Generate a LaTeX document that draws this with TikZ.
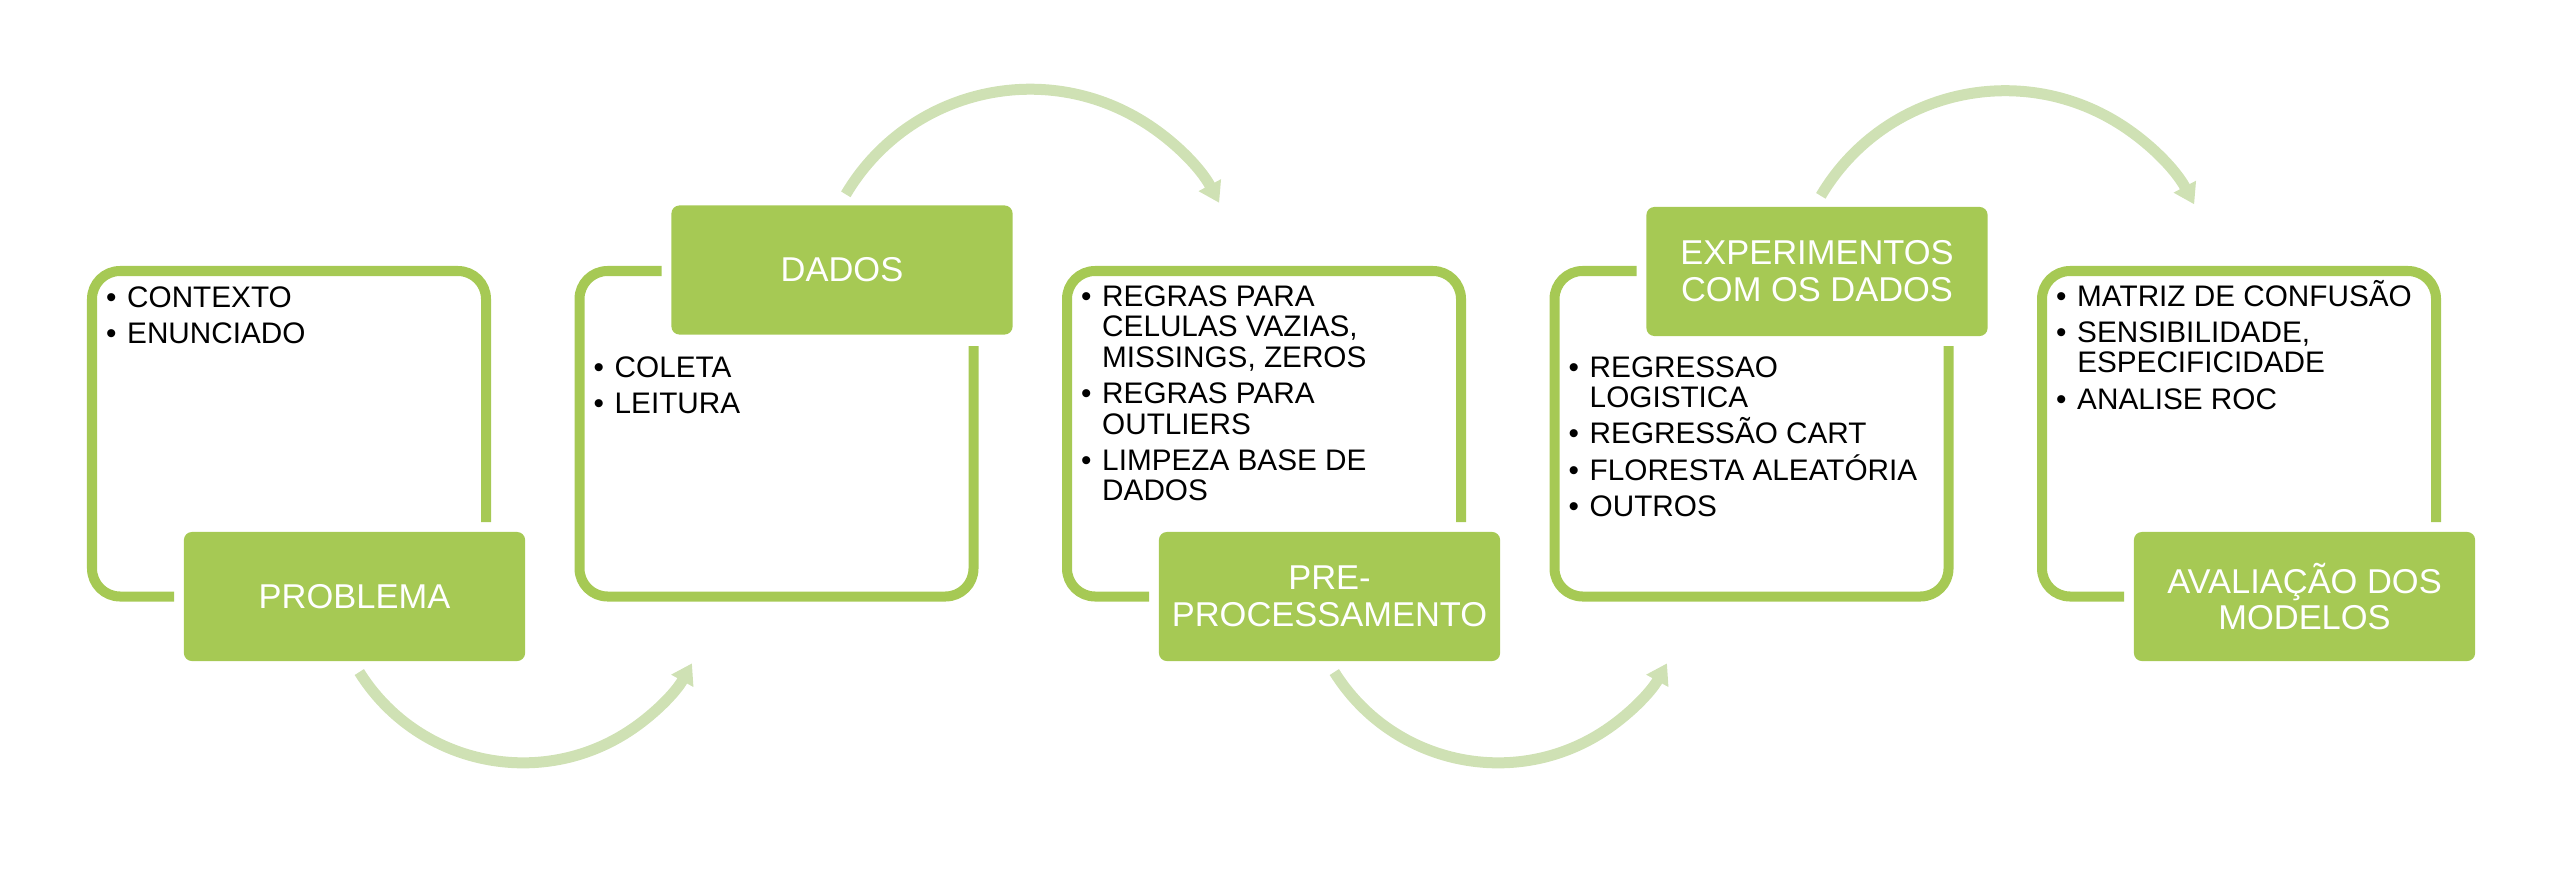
\documentclass[tikz,border=0pt]{standalone}
\usepackage{fontspec}
\setmainfont{Liberation Sans}
\usetikzlibrary{positioning,arrows.meta}

\definecolor{leafgreen}{RGB}{166,201,84}
\definecolor{palegreen}{RGB}{207,225,180}
\newcommand{\itembullet}{\makebox[0.21cm][l]{\textbullet}}
\newcommand{\itemgap}{\hspace*{0.21cm}}

\begin{document}
\begin{tikzpicture}[x=0.01cm,y=0.01cm,
        outline/.style={draw=leafgreen,line width=0.1cm,rounded corners=0.28cm},
        stage/.style={fill=leafgreen,rounded corners=0.08cm,minimum width=3.41cm,minimum height=1.29cm,
                      inner sep=0,align=center,text=white,font=\fontsize{9.8}{10.5}\selectfont},
        items/.style={anchor=base west,inner sep=0,font=\fontsize{8.45}{8.7}\selectfont},
        flow/.style={draw=palegreen,line width=0.11cm,-{Triangle[length=0.2cm,width=0.24cm]}},
        ]
\useasboundingbox (0,0) rectangle (2564,-876);

% frames
\draw[outline] (174,-596.5) -- (92,-596.5) -- (92,-271) -- (486,-271) -- (486,-522);
\draw[outline] (661.5,-271) -- (579.5,-271) -- (579.5,-596.5) -- (973.5,-596.5) -- (973.5,-346);
\draw[outline] (1149,-596.5) -- (1067,-596.5) -- (1067,-271) -- (1461,-271) -- (1461,-522);
\draw[outline] (1636.5,-271) -- (1554.5,-271) -- (1554.5,-596.5) -- (1948.5,-596.5) -- (1948.5,-346);
\draw[outline] (2124,-596.5) -- (2042,-596.5) -- (2042,-271) -- (2436,-271) -- (2436,-522);

% stages
\node[stage] (problema) at (354.5,-596.5) {PROBLEMA};
\node[stage] (dados) at (842,-270) {DADOS};
\node[stage] (preproc) at (1329.5,-596.5) {PRE-\\PROCESSAMENTO};
\node[stage] (experimentos) at (1817,-271.5) {EXPERIMENTOS\\COM OS DADOS};
\node[stage] (avaliacao) at (2304.5,-596.5) {AVALIAÇÃO DOS\\MODELOS};

% lists
\node[items] (problema list) at (105.5,-307) {\begin{tabular}[t]{@{}l@{}}
    \itembullet CONTEXTO\\[1.6pt]
    \itembullet ENUNCIADO
    \end{tabular}};
\node[items] (dados list) at (593,-377) {\begin{tabular}[t]{@{}l@{}}
    \itembullet COLETA\\[1.6pt]
    \itembullet LEITURA
    \end{tabular}};
\node[items] (preproc list) at (1080.5,-306) {\begin{tabular}[t]{@{}l@{}}
    \itembullet REGRAS PARA\\
    \itemgap CELULAS VAZIAS,\\
    \itemgap MISSINGS, ZEROS\\[1.6pt]
    \itembullet REGRAS PARA\\
    \itemgap OUTLIERS\\[1.6pt]
    \itembullet LIMPEZA BASE DE\\
    \itemgap DADOS
    \end{tabular}};
\node[items] (experimentos list) at (1568,-377) {\begin{tabular}[t]{@{}l@{}}
    \itembullet REGRESSAO\\
    \itemgap LOGISTICA\\[1.6pt]
    \smash{\itembullet REGRESSÃO CART}\\[1.6pt]
    \smash{\itembullet FLORESTA ALEATÓRIA}\\[1.6pt]
    \itembullet OUTROS
    \end{tabular}};
\node[items] (avaliacao list) at (2055.5,-306) {\begin{tabular}[t]{@{}l@{}}
    \itembullet MATRIZ DE CONFUSÃO\\[1.6pt]
    \itembullet SENSIBILIDADE,\\
    \itemgap ESPECIFICIDADE\\[1.6pt]
    \itembullet ANALISE ROC
    \end{tabular}};

% arrows between stages
\coordinate (a1) at ([shift={(4.8,-10.3)}]problema.south);
\coordinate (a2) at ([shift={(3.8,10.4)}]dados.north);
\coordinate (a3) at ([shift={(4.8,-10.3)}]preproc.south);
\coordinate (a4) at ([shift={(3.8,10.4)}]experimentos.north);
\draw[flow] (a1) arc[start angle=212,end angle=331,radius=1.93cm];
\draw[flow] (a2) arc[start angle=149.4,end angle=28,radius=2.14cm];
\draw[flow] (a3) arc[start angle=212,end angle=331,radius=1.93cm];
\draw[flow] (a4) arc[start angle=149.4,end angle=28,radius=2.14cm];

\end{tikzpicture}
\end{document}
